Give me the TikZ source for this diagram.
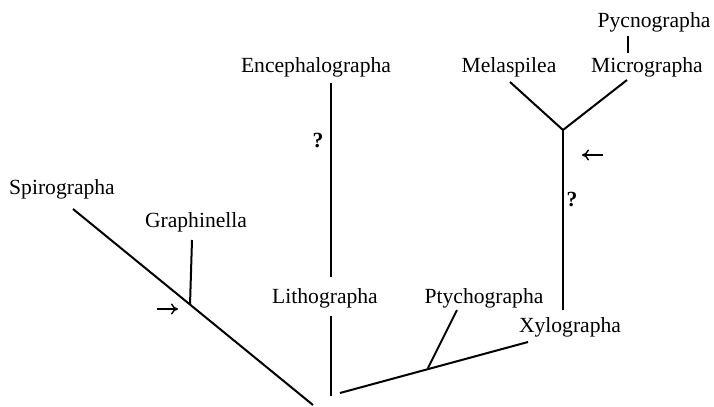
\documentclass[tikz,border=0pt]{standalone}
\usepackage{fontspec}
\setmainfont{Liberation Serif}
\usetikzlibrary{arrows.meta}
\tikzset{
  taxon/.style={inner sep=0pt, font=\fontsize{10.8}{13}\selectfont},
  query/.style={taxon, font=\fontsize{10.8}{13}\selectfont\bfseries},
  branch/.style={line width=1pt},
  pointer/.style={line width=0.7pt, -{To[length=3.5pt,width=5.5pt]}}
}
\begin{document}
\begin{tikzpicture}[x=0.5pt, y=-0.5pt]
    \useasboundingbox (0,0) rectangle (714,407);
    % taxa
    \node[taxon] (spiro) at (62,189) {Spirographa};
    \node[taxon] (graphin) at (196,222) {Graphinella};
    \node[taxon] (enceph) at (316,67) {Encephalographa};
    \node[taxon] (litho) at (325,298) {Lithographa};
    \node[taxon] (ptycho) at (484,298) {Ptychographa};
    \node[taxon] (xylo) at (570,327) {Xylographa};
    \node[taxon] (melas) at (509,67) {Melaspilea};
    \node[taxon] (micro) at (647,67) {Micrographa};
    \node[taxon] (pycno) at (654,22) {Pycnographa};
    \node[query] (q1) at (318,141) {?};
    \node[query] (q2) at (572,200) {?};
    % joints
    \coordinate (s1) at (73,209);
    \coordinate (s2) at (313,405);
    \coordinate (g0) at (190,305);
    \coordinate (g1) at (192,240);
    \coordinate (e1) at (331,83);
    \coordinate (e2) at (331,277);
    \coordinate (l1) at (331,316);
    \coordinate (l2) at (331,396);
    \coordinate (x0) at (340,393);
    \coordinate (x1) at (528,342);
    \coordinate (p0) at (428,368);
    \coordinate (p1) at (457,310);
    \coordinate (v0) at (563,310);
    \coordinate (v1) at (563,130);
    \coordinate (m1) at (510,82);
    \coordinate (m2) at (627,80);
    \coordinate (c1) at (628,36);
    \coordinate (c2) at (628,53);
    \coordinate (a1) at (157,309);
    \coordinate (a2) at (178,309);
    \coordinate (b1) at (603,155);
    \coordinate (b2) at (582,155);
    % branches
    \draw[branch] (s1) -- (s2);
    \draw[branch] (g0) -- (g1);
    \draw[branch] (e1) -- (e2);
    \draw[branch] (l1) -- (l2);
    \draw[branch] (x0) -- (x1);
    \draw[branch] (p0) -- (p1);
    \draw[branch] (v0) -- (v1);
    \draw[branch] (m1) -- (v1) -- (m2);
    \draw[branch] (c1) -- (c2);
    \draw[pointer] (a1) -- (a2);
    \draw[pointer] (b1) -- (b2);
\end{tikzpicture}
\end{document}
